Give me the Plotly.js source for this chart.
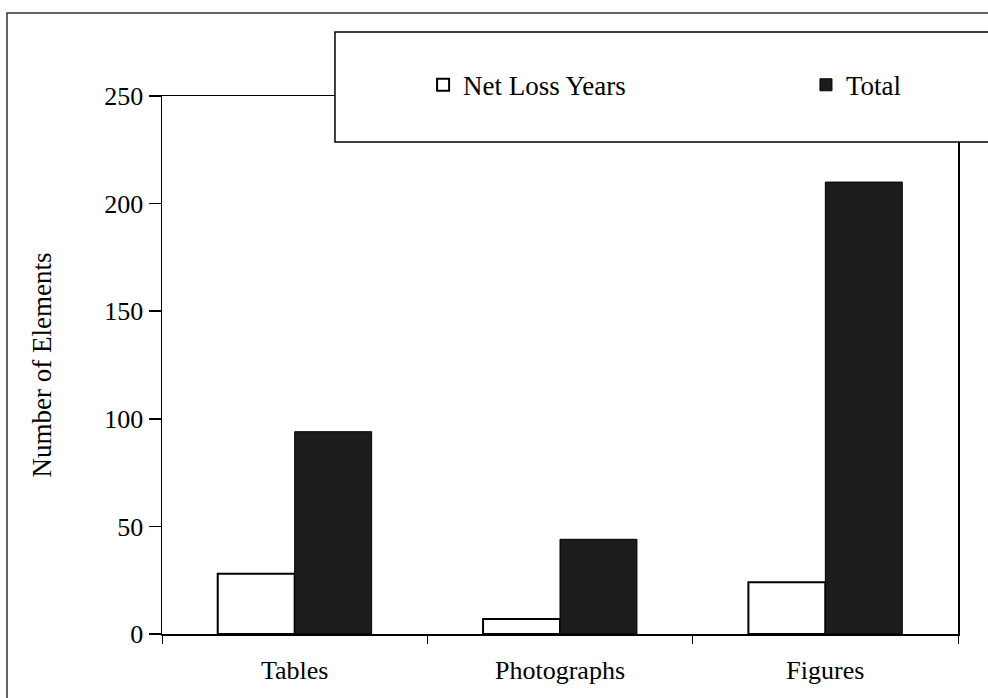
<!DOCTYPE html>
<html>
<head>
<meta charset="utf-8">
<script src="https://cdn.plot.ly/plotly-3.0.1.min.js"></script>
<style>html,body{margin:0;padding:0;background:#fff;}#chart{width:988px;height:698px;}</style>
</head>
<body>
<div id="chart"></div>
<script>
const categories = ["Tables", "Photographs", "Figures"];
const netLossYears = [28, 7, 24];
const total = [94, 44, 210];
const yTicks = [0, 50, 100, 150, 200, 250];

const FONT = "Liberation Serif, Times New Roman, serif";

const traces = [
  {
    type: "bar", name: "Net Loss Years", x: categories, y: netLossYears, legend: "legend",
    marker: {color: "#ffffff", line: {color: "#000000", width: 2}}
  },
  {
    type: "bar", name: "Total", x: categories, y: total, legend: "legend2",
    marker: {color: "#1c1c1c", line: {color: "#000000", width: 1}}
  }
];

const legendBase = {
  orientation: "h", xanchor: "left", y: 1.02, yanchor: "middle",
  bgcolor: "rgba(0,0,0,0)", borderwidth: 0,
  font: {family: FONT, size: 27, color: "#000"}, itemwidth: 30
};

const layout = {
  width: 988, height: 698,
  margin: {l: 162, r: 30, t: 96, b: 64},
  paper_bgcolor: "#ffffff", plot_bgcolor: "#ffffff",
  font: {family: FONT, size: 26, color: "#000"},
  barmode: "group", bargap: 0.42, bargroupgap: 0,
  showlegend: true,
  legend: Object.assign({}, legendBase, {x: 0.328}),
  legend2: Object.assign({}, legendBase, {x: 0.809}),
  xaxis: {
    type: "category", showline: true, linecolor: "#000", linewidth: 1.5, mirror: true,
    ticks: "outside", tickson: "boundaries", ticklen: 8, tickcolor: "#000", tickwidth: 1,
    ticklabelstandoff: 12, showgrid: false, zeroline: false, fixedrange: true,
    tickfont: {family: FONT, size: 26, color: "#000"}
  },
  yaxis: {
    range: [0, 250], tickvals: yTicks, ticktext: yTicks.map(String),
    showline: true, linecolor: "#000", linewidth: 1.5, mirror: true,
    ticks: "outside", ticklen: 12, tickcolor: "#000", tickwidth: 1.5,
    showgrid: false, zeroline: false, fixedrange: true,
    tickfont: {family: FONT, size: 26, color: "#000"},
    title: {text: "Number of Elements", font: {family: FONT, size: 27, color: "#000"}, standoff: 45}
  },
  shapes: [
    {type: "rect", xref: "paper", yref: "paper", x0: -0.1947, x1: 1.05, y0: -0.14, y1: 1.1543,
     line: {color: "#333", width: 1.5}, fillcolor: "rgba(0,0,0,0)", layer: "below"},
    {type: "rect", xref: "paper", yref: "paper", x0: 0.2173, x1: 1.05, y0: 0.9145, y1: 1.119,
     line: {color: "#000", width: 1.5}, fillcolor: "#ffffff", layer: "above"}
  ]
};

Plotly.newPlot("chart", traces, layout, {displayModeBar: false, staticPlot: true});
</script>
</body>
</html>
